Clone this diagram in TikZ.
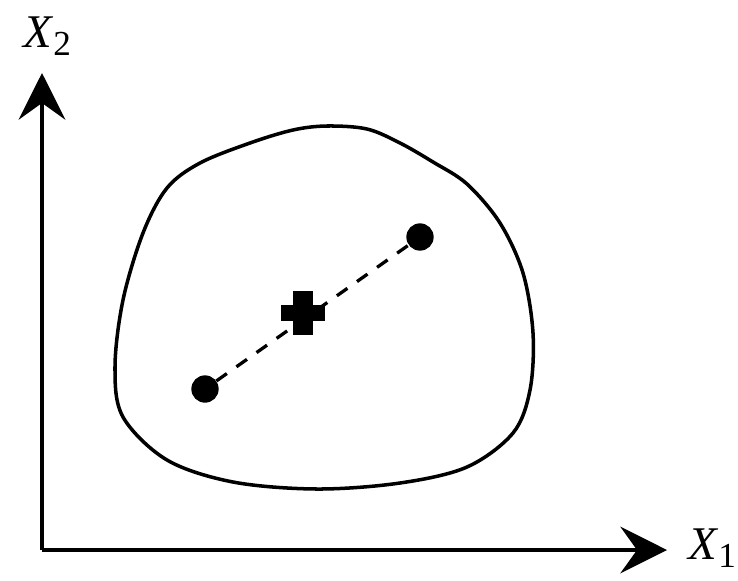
\documentclass[tikz,border=0pt]{standalone}
\usepackage{fontspec}
\setmainfont{Liberation Serif}
\usetikzlibrary{arrows.meta}
\begin{document}
\begin{tikzpicture}[x=0.03cm,y=-0.03cm,
  axis/.style={line width=3pt,-{Stealth[length=1.4cm,width=1.4cm,inset=0.5cm]}},
  blob/.style={line width=3pt},
  dot/.style={circle,fill=black,inner sep=0pt,minimum size=0.82cm},
  conn/.style={line width=2.8pt,dash pattern=on 11pt off 10pt},
  lbl/.style={font=\fontsize{40}{42}\selectfont,inner sep=0pt}]
\useasboundingbox (0,0) rectangle (738,580);
\coordinate (o) at (42,550);
\coordinate (xe) at (667,550);
\coordinate (ye) at (42,73);
\draw[axis] (o) -- (xe);
\draw[axis] (o) -- (ye);
\node[lbl,anchor=west] (x1) at (688,548) {\textit{X}\raisebox{-0.35ex}{\fontsize{30}{32}\selectfont 1}};
\node[lbl] (x2) at (47,36) {\textit{X}\raisebox{-0.35ex}{\fontsize{30}{32}\selectfont 2}};
\draw[blob] plot[smooth cycle,tension=0.55] coordinates {
  (327,126) (367,129) (400,143) (433,162) (467,184) (500,223) (523,273) (533,333)
  (530,390) (513,433) (467,467) (400,483) (317,489) (233,482) (167,460) (123,417)
  (115,367) (123,300) (143,233) (167,188) (200,163) (250,143) (293,130)};
\node[dot] (p1) at (205,389) {};
\node[dot] (p2) at (420,237) {};
\draw[conn] (p1) -- (p2);
\coordinate (c) at (303,313);
\fill[shift={(c)}] (-22,-8) rectangle (22,8);
\fill[shift={(c)}] (-10,-22) rectangle (10,22);
\end{tikzpicture}
\end{document}
